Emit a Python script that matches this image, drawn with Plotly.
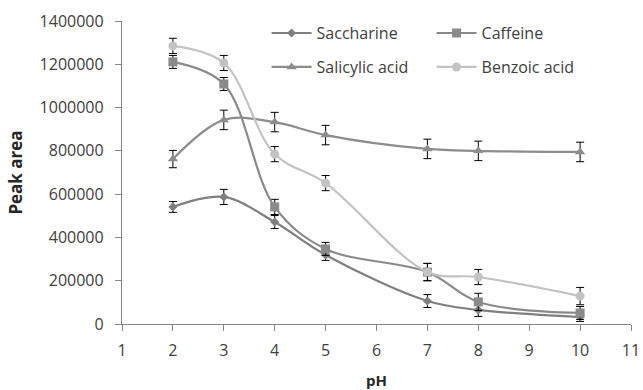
import plotly.graph_objects as go

ph = [2, 3, 4, 5, 7, 8, 10]

saccharine = [541000, 587000, 471000, 319000, 106000, 65000, 32000]
caffeine = [1211000, 1109000, 541000, 347000, 240000, 102000, 51000]
salicylic = [762000, 943000, 933000, 873000, 809000, 800000, 795000]
benzoic = [1285000, 1206000, 785000, 651000, 240000, 217000, 129000]

saccharine_err = [25000, 35000, 30000, 25000, 30000, 30000, 20000]
caffeine_err = [30000, 30000, 35000, 30000, 40000, 40000, 30000]
salicylic_err = [40000, 45000, 45000, 45000, 45000, 45000, 45000]
benzoic_err = [35000, 35000, 35000, 35000, 40000, 35000, 40000]

names = ["Saccharine", "Caffeine", "Salicylic acid", "Benzoic acid"]
series = [saccharine, caffeine, salicylic, benzoic]
errors = [saccharine_err, caffeine_err, salicylic_err, benzoic_err]
colors = ["#7f7f7f", "#8a8a8a", "#8c8c8c", "#c3c3c3"]
symbols = ["diamond", "square", "triangle-up", "circle"]
sizes = [7, 9, 9, 9]
legends = ["legend", "legend", "legend2", "legend2"]

fig = go.Figure()
for n, s, e, c, sym, sz, lg in zip(names, series, errors, colors, symbols, sizes, legends):
    fig.add_trace(go.Scatter(
        x=ph, y=s, name=n, mode="lines+markers", legend=lg,
        line=dict(color=c, width=2.2, shape="spline", smoothing=1),
        marker=dict(symbol=sym, size=sz, color=c),
        error_y=dict(type="data", array=e, visible=True, color="#000000",
                     thickness=1, width=4),
    ))

font_family = "Open Sans, Liberation Sans, sans-serif"
leg_common = dict(orientation="h", xanchor="left", yanchor="middle",
                  entrywidth=110, font=dict(size=16, color="#404040"),
                  bgcolor="rgba(0,0,0,0)", itemwidth=40)
fig.update_layout(
    width=643, height=390,
    margin=dict(l=122, r=12, t=21, b=66),
    paper_bgcolor="white", plot_bgcolor="white",
    font=dict(family=font_family, size=16, color="#404040"),
    showlegend=True,
    legend=dict(x=0.284, y=0.96, **leg_common),
    legend2=dict(x=0.284, y=0.848, **leg_common),
    xaxis=dict(range=[1, 11], tickmode="linear", tick0=1, dtick=1,
               showgrid=False, zeroline=False, showline=True, automargin=False,
               linecolor="#868686", linewidth=1.3, ticks="outside",
               ticklen=6, tickcolor="#868686", ticklabelstandoff=6,
               title=dict(text="<b>pH</b>", font=dict(size=15, color="#262626"),
                          standoff=16)),
    yaxis=dict(range=[0, 1400000], tickmode="linear", tick0=0, dtick=200000,
               showgrid=False, zeroline=False, showline=True, automargin=False,
               linecolor="#868686", linewidth=1.3, ticks="outside",
               ticklen=6, tickcolor="#868686", tickformat="d",
               ticklabelstandoff=8,
               title=dict(text="<b>Peak area</b>", font=dict(size=17, color="#262626"),
                          standoff=12)),
)

fig.write_html("out.html")
